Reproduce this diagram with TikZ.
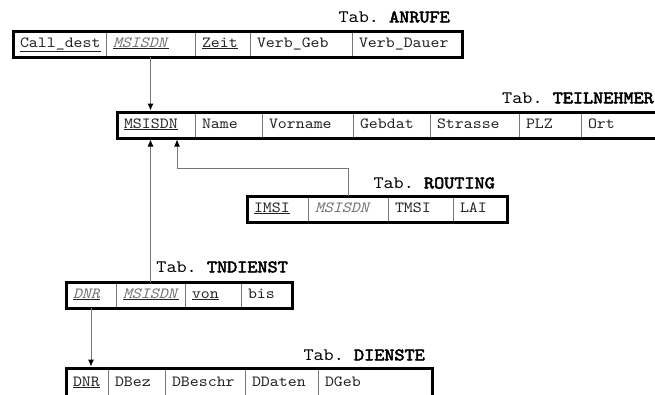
\documentclass[tikz,border=0pt]{standalone}
\usepackage{fontspec}
\setmonofont{lmmono10-regular.otf}[FakeStretch=1.1, ItalicFont=lmmono10-italic.otf, BoldFont=lmmono10-regular.otf, BoldFeatures={FakeBold=3}]
\usepackage{tikz}
\usetikzlibrary{positioning, arrows.meta}
\definecolor{celltext}{HTML}{222222}
\definecolor{fktext}{HTML}{6E6E6E}
\definecolor{linegray}{HTML}{777777}
\tikzstyle{cell} = [rectangle, draw=linegray, line width=0.8pt, inner xsep=7pt, inner ysep=0pt, outer sep=0pt, minimum height=26pt, text height=9pt, text depth=3pt, align=left, anchor=west, text=celltext, font=\ttfamily\fontsize{15.5}{17}\selectfont]
\tikzstyle{tablabel} = [anchor=east, inner sep=0pt, font=\ttfamily\fontsize{17.5}{19}\selectfont]
\tikzstyle{frame} = [line width=3pt, line join=miter]
\tikzstyle{arrow} = [-{Latex[length=7pt, width=6pt, color=black]}, line width=1pt, draw=linegray]
\newcommand{\fk}[1]{\textcolor{fktext}{\textit{#1}}}

\begin{document}
\begin{tikzpicture}[x=1pt, y=-1pt]
    \useasboundingbox (0,0) rectangle (655,394);

    % Tab. ANRUFE
    \node (lanr) [tablabel] at (450,17) {Tab. \textbf{ANRUFE}};
    \node (anr1) [cell, text width=79pt] at (13,44) {\underline{Call\_dest}};
    \node (anr2) [cell, text width=75pt, right=0pt of anr1] {\underline{\fk{MSISDN}}};
    \node (anr3) [cell, text width=41pt, right=0pt of anr2] {\underline{Zeit}};
    \node (anr4) [cell, text width=88pt, right=0pt of anr3] {Verb\_Geb};
    \node (anr5) [cell, text width=96pt, right=0pt of anr4] {Verb\_Dauer};
    \draw [frame] (anr1.north west) rectangle (anr5.south east);

    % Tab. TEILNEHMER
    \node (lteil) [tablabel] at (654,98) {Tab. \textbf{TEILNEHMER}};
    \node (teil1) [cell, text width=64pt] at (117,125) {\underline{MSISDN}};
    \node (teil2) [cell, text width=53pt, right=0pt of teil1] {Name};
    \node (teil3) [cell, text width=77pt, right=0pt of teil2] {Vorname};
    \node (teil4) [cell, text width=63pt, right=0pt of teil3] {Gebdat};
    \node (teil5) [cell, text width=75pt, right=0pt of teil4] {Strasse};
    \node (teil6) [cell, text width=48pt, right=0pt of teil5] {PLZ};
    \node (teil7) [cell, text width=75pt, right=0pt of teil6] {Ort};
    \draw [frame] (teil1.north west) rectangle (teil7.south east);

    % Tab. ROUTING
    \node (lrout) [tablabel] at (495,183) {Tab. \textbf{ROUTING}};
    \node (rout1) [cell, text width=47pt] at (247,209) {\underline{IMSI}};
    \node (rout2) [cell, text width=66pt, right=0pt of rout1] {\fk{MSISDN}};
    \node (rout3) [cell, text width=51pt, right=0pt of rout2] {TMSI};
    \node (rout4) [cell, text width=40pt, right=0pt of rout3] {LAI};
    \draw [frame] (rout1.north west) rectangle (rout4.south east);

    % Tab. TNDIENST
    \node (ltnd) [tablabel] at (288,267) {Tab. \textbf{TNDIENST}};
    \node (tnd1) [cell, text width=36pt] at (66,295) {\underline{\fk{DNR}}};
    \node (tnd2) [cell, text width=55pt, right=0pt of tnd1] {\underline{\fk{MSISDN}}};
    \node (tnd3) [cell, text width=42pt, right=0pt of tnd2] {\underline{von}};
    \node (tnd4) [cell, text width=37pt, right=0pt of tnd3] {bis};
    \draw [frame] (tnd1.north west) rectangle (tnd4.south east);

    % Tab. DIENSTE (unten abgeschnitten)
    \node (ldien) [tablabel] at (425,355) {Tab. \textbf{DIENSTE}};
    \node (dien1) [cell, text width=28pt, minimum height=30pt] at (66,383) {\underline{DNR}};
    \node (dien2) [cell, text width=43pt, minimum height=30pt, right=0pt of dien1] {DBez};
    \node (dien3) [cell, text width=66pt, minimum height=30pt, right=0pt of dien2] {DBeschr};
    \node (dien4) [cell, text width=59pt, minimum height=30pt, right=0pt of dien3] {DDaten};
    \node (dien5) [cell, text width=100pt, minimum height=30pt, right=0pt of dien4] {DGeb};
    \draw [frame] (dien1.north west) rectangle (dien5.south east);

    % Fremdschluessel
    \coordinate (bend) at (177,168);
    \draw [arrow, shorten >=1.5pt] (anr2.south) -- (anr2.south |- teil1.north);
    \draw [arrow, shorten >=1.5pt] (tnd2.north) -- (tnd2.north |- teil1.south);
    \draw [arrow, shorten >=1.5pt] (rout2.north) |- (bend) -- (bend |- teil1.south);
    \draw [arrow, shorten >=1.5pt] (tnd1.south) -- (tnd1.south |- dien1.north);
\end{tikzpicture}
\end{document}
